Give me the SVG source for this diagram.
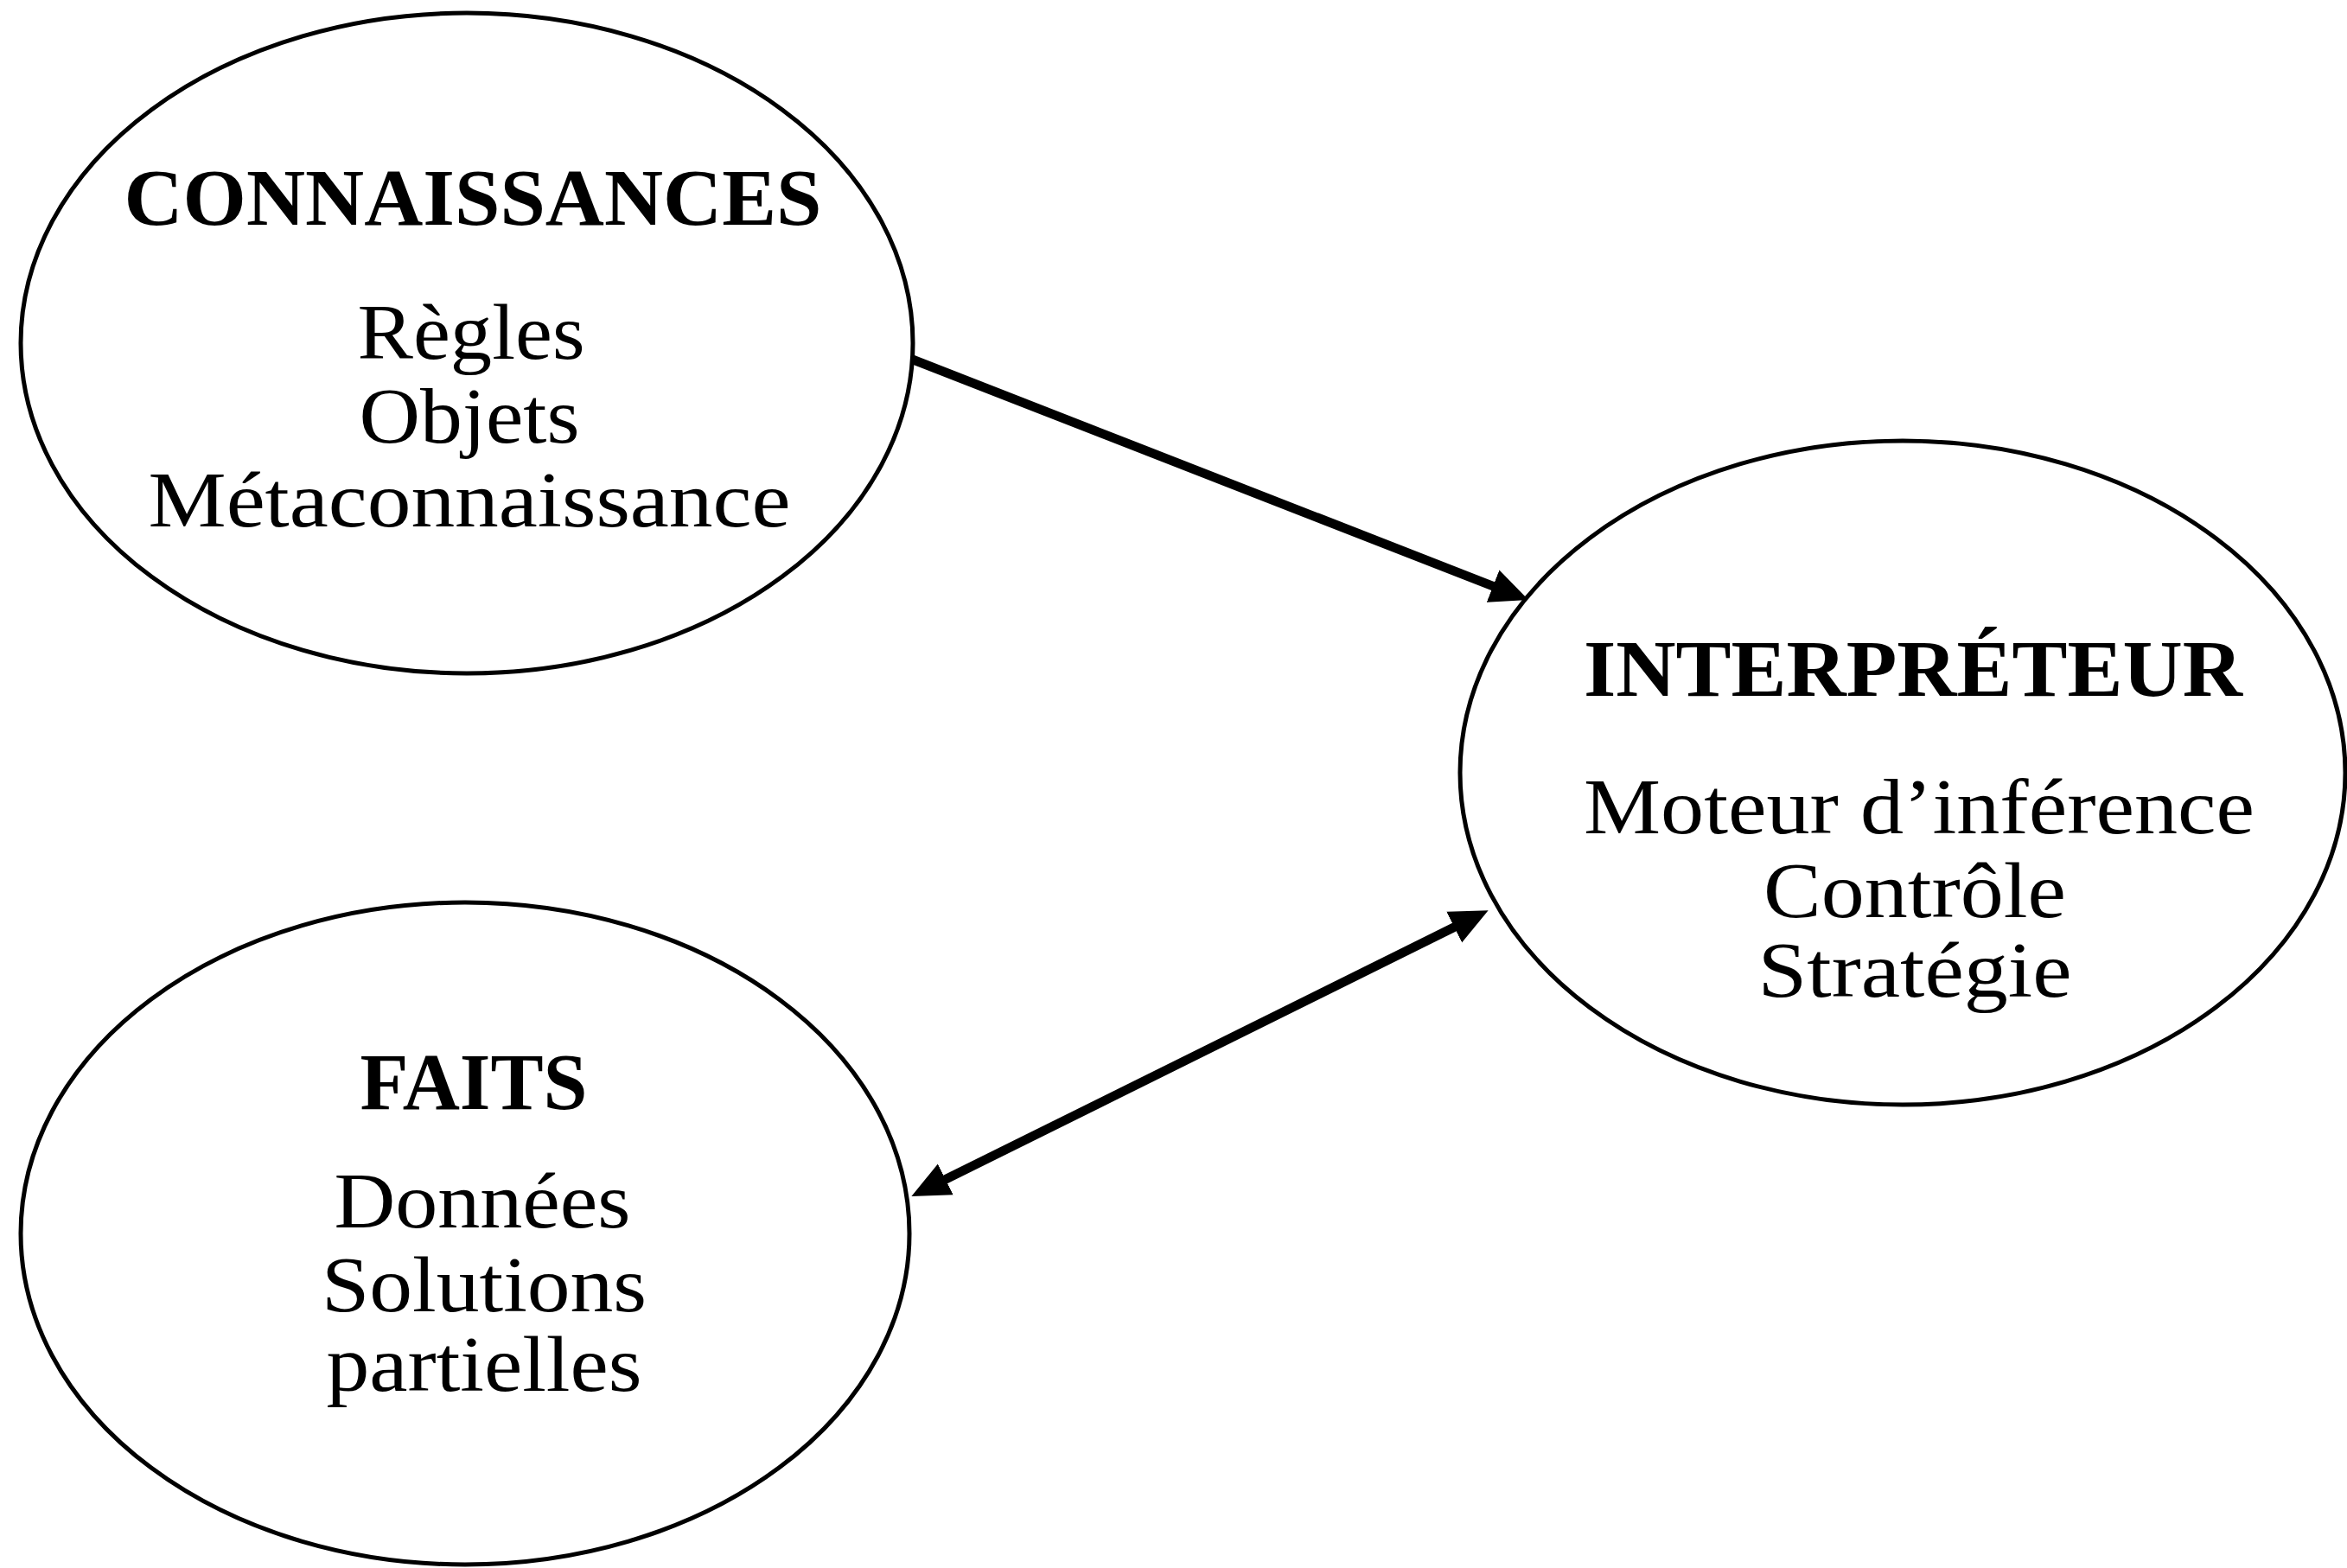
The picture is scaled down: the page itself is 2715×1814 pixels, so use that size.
<svg xmlns="http://www.w3.org/2000/svg" width="2715" height="1814" viewBox="0 0 2715 1814">
  <style>
    .node ellipse { fill: #ffffff; stroke: #000000; stroke-width: 5; }
    .title { font-family: "Liberation Serif", "Times New Roman", serif; font-weight: bold; font-size: 94px; fill: #000000; text-anchor: middle; }
    .item { font-family: "Liberation Serif", "Times New Roman", serif; font-size: 91px; fill: #000000; text-anchor: middle; }
    .edge { stroke: #000000; stroke-width: 10.5; fill: none; }
  </style>
  <defs>
    <marker id="head" viewBox="0 0 44 42" refX="2" refY="21" markerWidth="44" markerHeight="42" markerUnits="userSpaceOnUse" orient="auto-start-reverse">
      <path d="M0,1 L44,21 L0,41 Z" fill="#000000"/>
    </marker>
  </defs>
  <rect x="0" y="0" width="2715" height="1814" fill="#ffffff"/>

  <g id="connectors">
    <line class="edge" x1="1056" y1="416" x2="1729" y2="678.8" marker-end="url(#head)"/>
    <line class="edge" x1="1092" y1="1365.3" x2="1684" y2="1071.8" marker-start="url(#head)" marker-end="url(#head)"/>
  </g>

  <g id="connaissances" class="node">
    <ellipse cx="540" cy="397" rx="516" ry="382"/>
    <text class="title" x="547" y="260" textLength="807" lengthAdjust="spacingAndGlyphs">CONNAISSANCES</text>
    <text class="item" x="545" y="415" textLength="263" lengthAdjust="spacingAndGlyphs">Règles</text>
    <text class="item" x="543" y="512" textLength="255" lengthAdjust="spacingAndGlyphs">Objets</text>
    <text class="item" x="543" y="609" textLength="743" lengthAdjust="spacingAndGlyphs">Métaconnaissance</text>
  </g>

  <g id="interpreteur" class="node">
    <ellipse cx="2201" cy="894" rx="512" ry="384"/>
    <text class="title" x="2213" y="805" textLength="762" lengthAdjust="spacingAndGlyphs">INTERPRÉTEUR</text>
    <text class="item" x="2220" y="964" textLength="776" lengthAdjust="spacingAndGlyphs">Moteur d’inférence</text>
    <text class="item" x="2215" y="1061" textLength="350" lengthAdjust="spacingAndGlyphs">Contrôle</text>
    <text class="item" x="2215" y="1153" textLength="363" lengthAdjust="spacingAndGlyphs">Stratégie</text>
  </g>

  <g id="faits" class="node">
    <ellipse cx="538" cy="1427" rx="514" ry="383"/>
    <text class="title" x="548" y="1283" textLength="263" lengthAdjust="spacingAndGlyphs">FAITS</text>
    <text class="item" x="558" y="1420" textLength="343" lengthAdjust="spacingAndGlyphs">Données</text>
    <text class="item" x="560" y="1517" textLength="376" lengthAdjust="spacingAndGlyphs">Solutions</text>
    <text class="item" x="560" y="1609" textLength="365" lengthAdjust="spacingAndGlyphs">partielles</text>
  </g>
</svg>
